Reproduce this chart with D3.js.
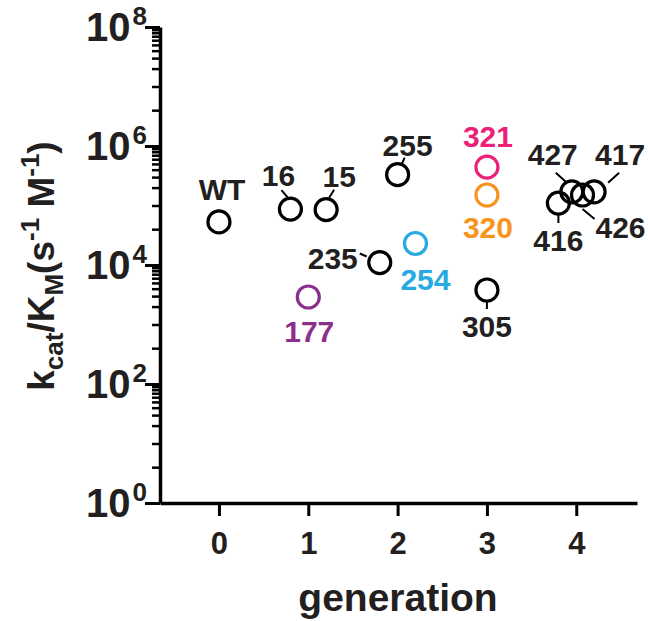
<!DOCTYPE html>
<html>
<head>
<meta charset="utf-8">
<script src="https://cdn.jsdelivr.net/npm/d3@7"></script>
<style>
  body { margin: 0; background: #fff; }
  text { font-family: "Liberation Sans", Arial, sans-serif; font-weight: bold; fill: #231f20; }
</style>
</head>
<body>
<svg id="chart" width="648" height="621"></svg>
<script>
// variants
var names = ["WT", "16", "15", "177", "235", "255", "254", "321", "320", "305", "416", "427", "426", "417"];
var generation = [0, 0.8, 1.2, 1, 1.8, 2, 2.2, 3, 3, 3, 3.8, 3.95, 4.07, 4.2];
var kcatKm = [5.3e4, 8.7e4, 8.5e4, 2.9e3, 1.1e4, 3.3e5, 2.3e4, 4.4e5, 1.5e5, 3.8e3, 1.1e5, 1.7e5, 1.5e5, 1.7e5];
var colors = ["#000", "#000", "#000", "#8b2f8c", "#000", "#000", "#27aae1", "#ec1f79", "#f7941d", "#000", "#000", "#000", "#000", "#000"];

var xTicks = [0, 1, 2, 3, 4];
var yMajor = [1e0, 1e2, 1e4, 1e6, 1e8];
var minorSteps = [4, 10, 20, 30, 40, 50, 60, 70, 80, 90];

// label placement, pixel offsets from the circle centre: [dx, dy baseline]
var labelOff = [[3, -22], [-12, -23], [13, -23], [1, 45], [-47, 6], [10, -19], [10, 47],
                [1, -20], [1, 43], [0, 47], [0, 48], [-19, -27], [38, 43], [26, -27]];
// leader lines, offsets from the circle centre
var leaders = [null, [-9, -19, -3, -12], [8, -20, 3, -12], null, [-20, -9, -13, -6], [7, -17, 4, -10], null,
               null, null, [0, 12, 0, 19], [0, 12, 0, 20], [-16, -19, -6, -10], [0, 14, 12, 24], [25, -19, 14, -9]];

var svg = d3.select("#chart");

var x = d3.scaleLinear().domain([-0.66, 4.68]).range([160, 637]);
var y = d3.scaleLog().domain([1, 1e8]).range([503, 27]);

// minor ticks on y
var minorVals = [];
yMajor.slice(0, -1).forEach(function (m) {
    minorSteps.forEach(function (s) { minorVals.push(m * s); });
});

svg.append("g")
    .attr("transform", "translate(160,0)")
    .call(d3.axisLeft(y).tickValues(minorVals).tickSize(8).tickFormat(""))
    .call(function (g) { g.select(".domain").remove(); })
    .selectAll("line").attr("stroke", "#000").attr("stroke-width", 2.5);

var yAxis = svg.append("g")
    .attr("transform", "translate(160,0)")
    .call(d3.axisLeft(y).tickValues(yMajor).tickSize(15).tickSizeOuter(0).tickFormat(""));
yAxis.select(".domain").attr("stroke", "#000").attr("stroke-width", 3.5);
yAxis.selectAll("line").attr("stroke", "#000").attr("stroke-width", 3);

// y tick labels 10^n
yMajor.forEach(function (v) {
    var t = svg.append("text")
        .attr("x", 147)
        .attr("y", y(v) + 14)
        .attr("text-anchor", "end")
        .style("font-size", "40px");
    t.append("tspan").text("10");
    t.append("tspan").attr("dx", 2).attr("dy", -16).style("font-size", "26px").text(Math.round(Math.log10(v)));
});

var xAxis = svg.append("g")
    .attr("transform", "translate(0,503)")
    .call(d3.axisBottom(x).tickValues(xTicks).tickSize(13).tickSizeOuter(0).tickPadding(12)
        .tickFormat(d3.format("d")));
xAxis.select(".domain").attr("stroke", "#000").attr("stroke-width", 3.5);
xAxis.selectAll("line").attr("stroke", "#000").attr("stroke-width", 3);
xAxis.selectAll("text")
    .attr("font-family", null).attr("font-size", null)
    .style("font-size", "31px").attr("dy", "0.85em").attr("fill", "#231f20");

svg.append("text")
    .attr("x", 398).attr("y", 611)
    .attr("text-anchor", "middle")
    .style("font-size", "39px")
    .text("generation");

// y title
var yt = svg.append("text")
    .attr("transform", "translate(54,266) rotate(-90)")
    .attr("text-anchor", "middle")
    .style("font-size", "37px");
yt.append("tspan").text("k");
yt.append("tspan").attr("dy", 9).style("font-size", "26px").text("cat");
yt.append("tspan").attr("dy", -9).text("/K");
yt.append("tspan").attr("dy", 9).style("font-size", "26px").text("M");
yt.append("tspan").attr("dy", -9).text("(s");
yt.append("tspan").attr("dy", -15).style("font-size", "26px").text("-1");
yt.append("tspan").attr("dy", 15).text(" M");
yt.append("tspan").attr("dy", -15).style("font-size", "26px").text("-1");
yt.append("tspan").attr("dy", 15).text(")");

var idx = d3.range(names.length);

// leader lines
svg.append("g").selectAll("line")
    .data(idx.filter(function (i) { return leaders[i]; }))
    .enter().append("line")
    .attr("x1", function (i) { return x(generation[i]) + leaders[i][0]; })
    .attr("y1", function (i) { return y(kcatKm[i]) + leaders[i][1]; })
    .attr("x2", function (i) { return x(generation[i]) + leaders[i][2]; })
    .attr("y2", function (i) { return y(kcatKm[i]) + leaders[i][3]; })
    .attr("stroke", "#000")
    .attr("stroke-width", 2);

// points
svg.append("g").selectAll("circle")
    .data(idx)
    .enter().append("circle")
    .attr("cx", function (i) { return x(generation[i]); })
    .attr("cy", function (i) { return y(kcatKm[i]); })
    .attr("r", 11)
    .attr("fill", "none")
    .attr("stroke", function (i) { return colors[i]; })
    .attr("stroke-width", 3.2);

// labels
svg.append("g").selectAll("text")
    .data(idx)
    .enter().append("text")
    .attr("x", function (i) { return x(generation[i]) + labelOff[i][0]; })
    .attr("y", function (i) { return y(kcatKm[i]) + labelOff[i][1]; })
    .attr("text-anchor", "middle")
    .style("font-size", "30px")
    .style("fill", function (i) { return colors[i] === "#000" ? "#231f20" : colors[i]; })
    .text(function (i) { return names[i]; });
</script>
</body>
</html>
